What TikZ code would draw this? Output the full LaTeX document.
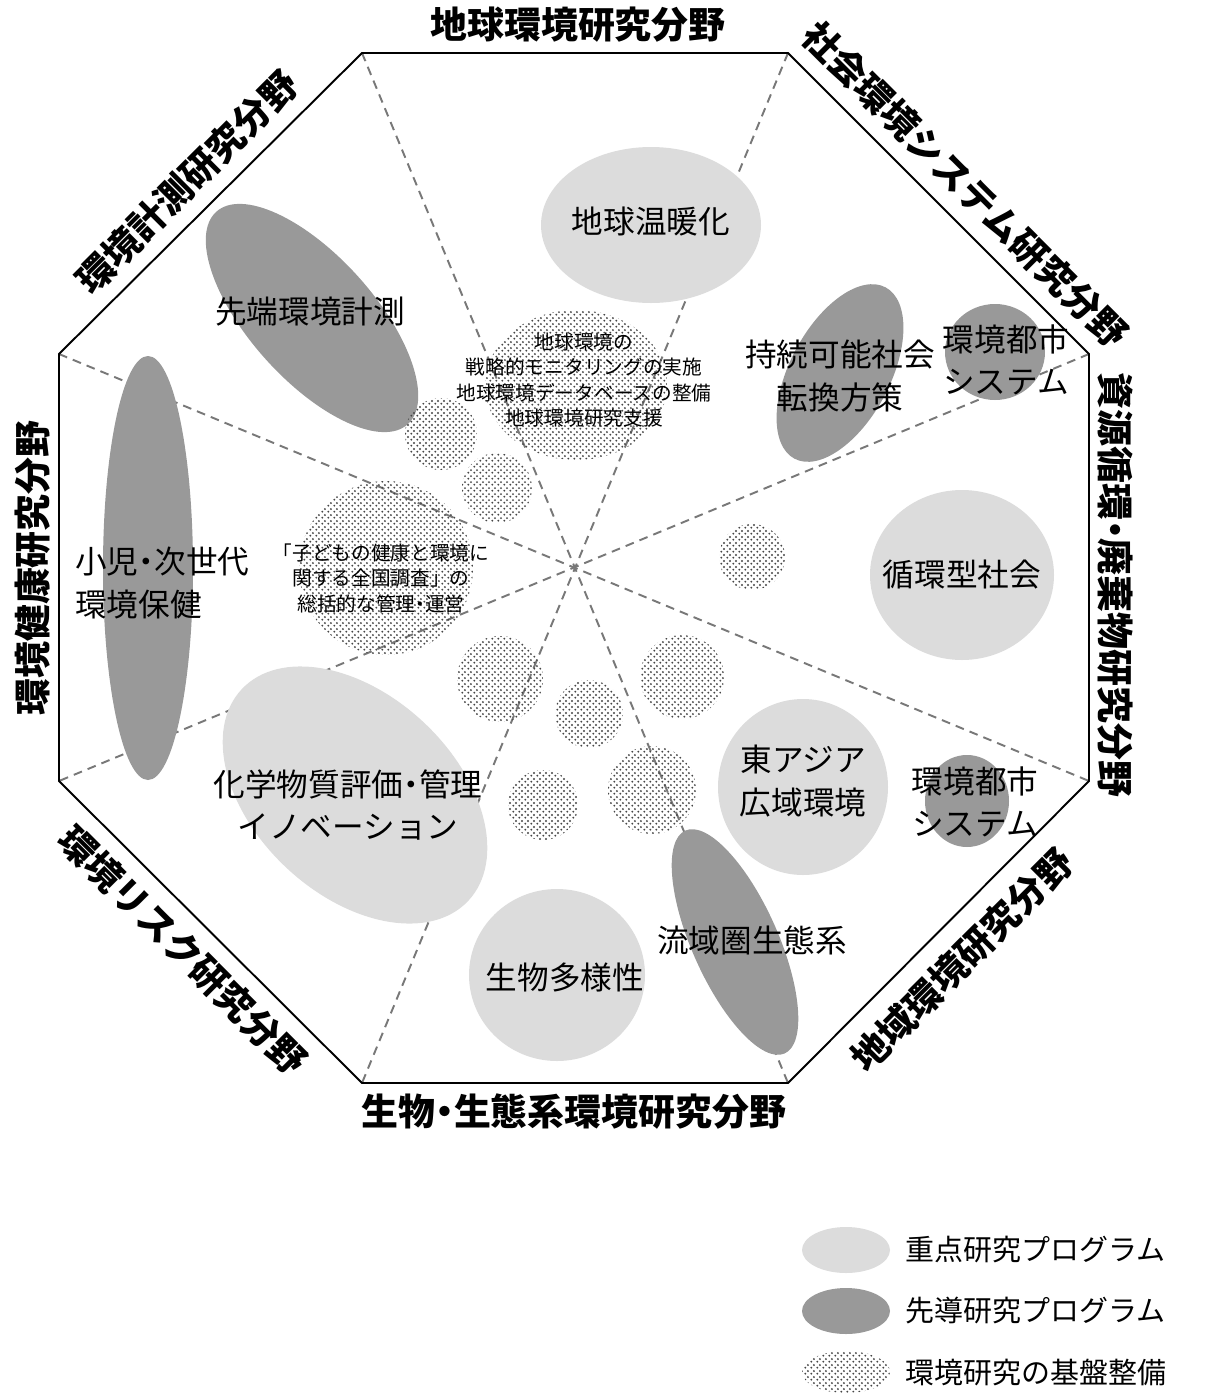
\documentclass[tikz,border=0pt]{standalone}
\usepackage{fontspec}
\setmainfont{Noto Sans CJK JP}
\newfontfamily\jpnarrow[RawFeature=+palt]{Noto Sans CJK JP}
\newcommand\nakaguro{{\jpnarrow ・}}
\usetikzlibrary{patterns.meta}

\definecolor{jutengray}{RGB}{220,220,220}
\definecolor{sendogray}{RGB}{153,153,153}
\definecolor{dotgray}{RGB}{70,70,70}
\definecolor{linegray}{RGB}{120,120,120}

\tikzdeclarepattern{
	name=kibandots,
	type=uncolored,
	bottom left={(0pt,0pt)},
	top right={(3.2pt,3.2pt)},
	tile size={(3.2pt,3.2pt)},
	code={
		\fill (0.8pt,0.8pt) circle (0.62pt);
		\fill (2.4pt,2.4pt) circle (0.62pt);
	}
}

\begin{document}
\begin{tikzpicture}
	[x=0.02cm,y=0.02cm,
	every node/.style={inner sep=0pt},
	field/.style={font=\fontsize{21}{24}\selectfont\bfseries},
	prog/.style={font=\fontsize{18}{24}\selectfont,align=center},
	base/.style={font=\fontsize{11.2}{14.5}\selectfont,align=center},
	legend/.style={font=\fontsize{16.5}{20}\selectfont,anchor=west},
	juten/.style={fill=jutengray},
	sendo/.style={fill=sendogray},
	kiban/.style={pattern=kibandots,pattern color=dotgray},
	divide/.style={draw=linegray,line width=1.1pt,dash pattern=on 5pt off 3.5pt}]
	\useasboundingbox (0,0) rectangle (1204,-1393);
	% octagon corners
	\coordinate (a) at (362,-53);
	\coordinate (b) at (788,-53);
	\coordinate (c) at (1089,-354);
	\coordinate (d) at (1089,-781);
	\coordinate (e) at (788,-1083);
	\coordinate (f) at (362,-1083);
	\coordinate (g) at (59,-781);
	\coordinate (h) at (59,-354);
	\draw [divide] (a) -- (e);
	\draw [divide] (b) -- (f);
	\draw [divide] (c) -- (g);
	\draw [divide] (h) -- (d);
	\draw [line width=1.1pt] (a) -- (b) -- (c) -- (d) -- (e) -- (f) -- (g) -- (h) -- cycle;
	% programs
	\fill [juten] (651,-225) ellipse [x radius=110, y radius=78];
	\fill [juten] (962,-575) ellipse [x radius=92, y radius=85];
	\fill [juten] (803,-787) ellipse [x radius=85, y radius=88];
	\fill [juten,rotate around={-43:(355,-795)}] (355,-795) ellipse [x radius=155, y radius=100];
	\fill [juten] (557,-975) ellipse [x radius=88, y radius=86];
	\fill [sendo,rotate around={-48:(312,-318)}] (312,-318) ellipse [x radius=143, y radius=62];
	\fill [sendo] (148,-568) ellipse [x radius=45, y radius=212];
	\fill [sendo,rotate around={62:(840,-373)}] (840,-373) ellipse [x radius=97, y radius=50];
	\fill [sendo] (995,-352) ellipse [x radius=50, y radius=48];
	\fill [sendo] (967,-801) ellipse [x radius=42, y radius=46];
	\fill [sendo,rotate around={-66:(735,-942)}] (735,-942) ellipse [x radius=122, y radius=43];
	% base
	\fill [kiban] (576,-385) ellipse [x radius=91, y radius=75];
	\fill [kiban] (441,-434) circle (36);
	\fill [kiban] (497,-488) circle (35);
	\fill [kiban] (386,-568) circle (87);
	\fill [kiban] (752,-557) circle (33);
	\fill [kiban] (500,-679) circle (43);
	\fill [kiban] (589,-714) circle (34);
	\fill [kiban] (682,-677) circle (42);
	\fill [kiban] (543,-805) circle (35);
	\fill [kiban] (652,-790) circle (44);
	% fields
	\node [field] (chikyu) at (578,-25) {地球環境研究分野};
	\node [field,rotate=-45] (shakai) at (965,-185) {社会環境システム研究分野};
	\node [field,rotate=-90] (shigen) at (1115,-585) {資源循環\nakaguro 廃棄物研究分野};
	\node [field,rotate=45] (chiiki) at (962,-960) {地域環境研究分野};
	\node [field] (seitai) at (574,-1112) {生物\nakaguro 生態系環境研究分野};
	\node [field,rotate=-45] (risk) at (183,-950) {環境リスク研究分野};
	\node [field,rotate=90] (kenko) at (33,-568) {環境健康研究分野};
	\node [field,rotate=45] (keisoku) at (187,-182) {環境計測研究分野};
	% labels
	\node [prog] (ondanka) at (651,-222) {地球温暖化};
	\node [prog] (junkan) at (962,-575) {循環型社会};
	\node [prog] (asia) at (803,-781) {東アジア\\広域環境};
	\node [prog] (kagaku) at (348,-805) {化学物質評価\nakaguro 管理\\イノベーション};
	\node [prog] (tayosei) at (565,-977) {生物多様性};
	\node [prog] (sentan) at (310,-312) {先端環境計測};
	\node [prog,align=left,anchor=west] (shoni) at (75,-583) {小児\nakaguro 次世代\\環境保健};
	\node [prog] (jizoku) at (840,-376) {持続可能社会\\転換方策};
	\node [prog] (toshi) at (1006,-360) {環境都市\\システム};
	\node [prog] (toshib) at (975,-802) {環境都市\\システム};
	\node [prog] (ryuiki) at (752,-940) {流域圏生態系};
	\node [base] (monitor) at (584,-380) {地球環境の\\戦略的モニタリングの実施\\地球環境データベースの整備\\地球環境研究支援};
	\node [base] (kodomo) at (381,-578) {「子どもの健康と環境に\\関する全国調査」の\\総括的な管理\nakaguro 運営};
	% legend
	\fill [juten] (846,-1250) ellipse [x radius=44, y radius=23];
	\fill [sendo] (846,-1311) ellipse [x radius=44, y radius=23];
	\fill [kiban] (846,-1372) ellipse [x radius=44, y radius=21];
	\node [legend] (lj) at (905,-1250) {重点研究プログラム};
	\node [legend] (ls) at (905,-1311) {先導研究プログラム};
	\node [legend] (lk) at (905,-1372) {環境研究の基盤整備};
\end{tikzpicture}
\end{document}
